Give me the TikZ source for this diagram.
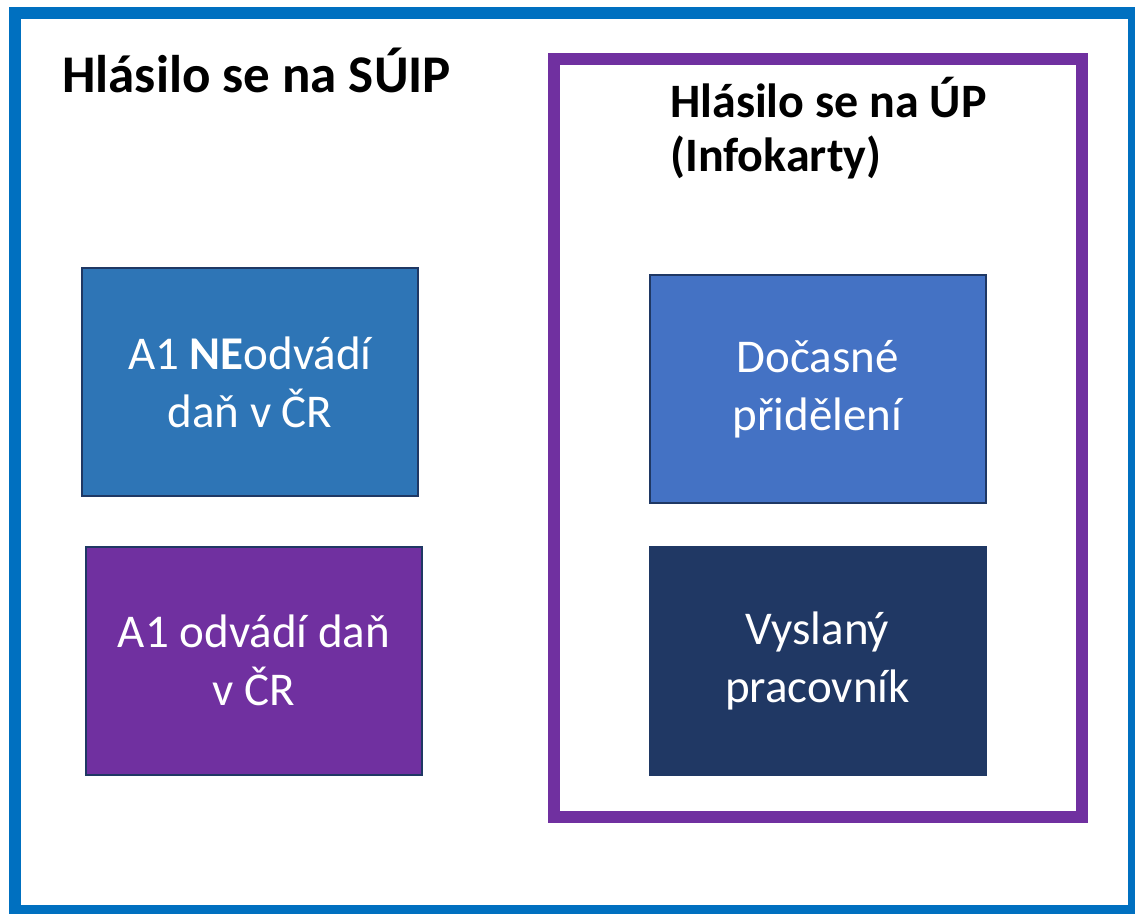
\documentclass[tikz,border=0pt]{standalone}
\usepackage{fontspec}
\setmainfont{Carlito}
\definecolor{outerblue}{HTML}{0070C0}
\definecolor{frameviolet}{HTML}{7030A0}
\definecolor{boxblue}{HTML}{2E75B6}
\definecolor{boxblue2}{HTML}{4472C4}
\definecolor{boxnavy}{HTML}{203864}
\definecolor{boxedge}{HTML}{1F3864}
\begin{document}
\begin{tikzpicture}[x=1pt,y=-1pt,
  infobox/.style={draw=boxedge, line width=2pt, minimum width=336pt, minimum height=228pt,
    inner sep=0pt, text=white, align=center, font=\fontsize{47}{58}\selectfont},
  titletext/.style={anchor=base west, inner sep=0pt, text=black},
  frame/.style={line width=12pt}]
\useasboundingbox (0,0) rectangle (1135,913);
\fill[white] (0,0) rectangle (1135,913);
\draw[frame, draw=outerblue] (15,13) rectangle (1134,911);
\node[frame, draw=frameviolet, minimum width=528pt, minimum height=758pt, inner sep=0pt] (upframe) at (818,438) {};
\node[titletext, font=\fontsize{53}{60}\selectfont\bfseries] (suip) at (62,92) {Hlásilo se na SÚIP};
\node[titletext, font=\fontsize{48}{55}\selectfont\bfseries] (up) at (670,117) {Hlásilo se na ÚP};
\node[titletext, font=\fontsize{48}{55}\selectfont\bfseries] (upsub) at ([yshift=-54pt]up.base west) {(Infokarty)};
\node[infobox, fill=boxblue] (ne) at (250,382) {A1 \textbf{NE}odvádí\\daň v ČR};
\node[infobox, fill=frameviolet] (odv) at (254,660.5) {A1 odvádí daň\\v ČR};
\node[infobox, fill=boxblue2] (doc) at (817.5,389) {Dočasné\\přidělení};
\node[infobox, fill=boxnavy] (vys) at (817.5,660.5) {Vyslaný\\pracovník};
\end{tikzpicture}
\end{document}
